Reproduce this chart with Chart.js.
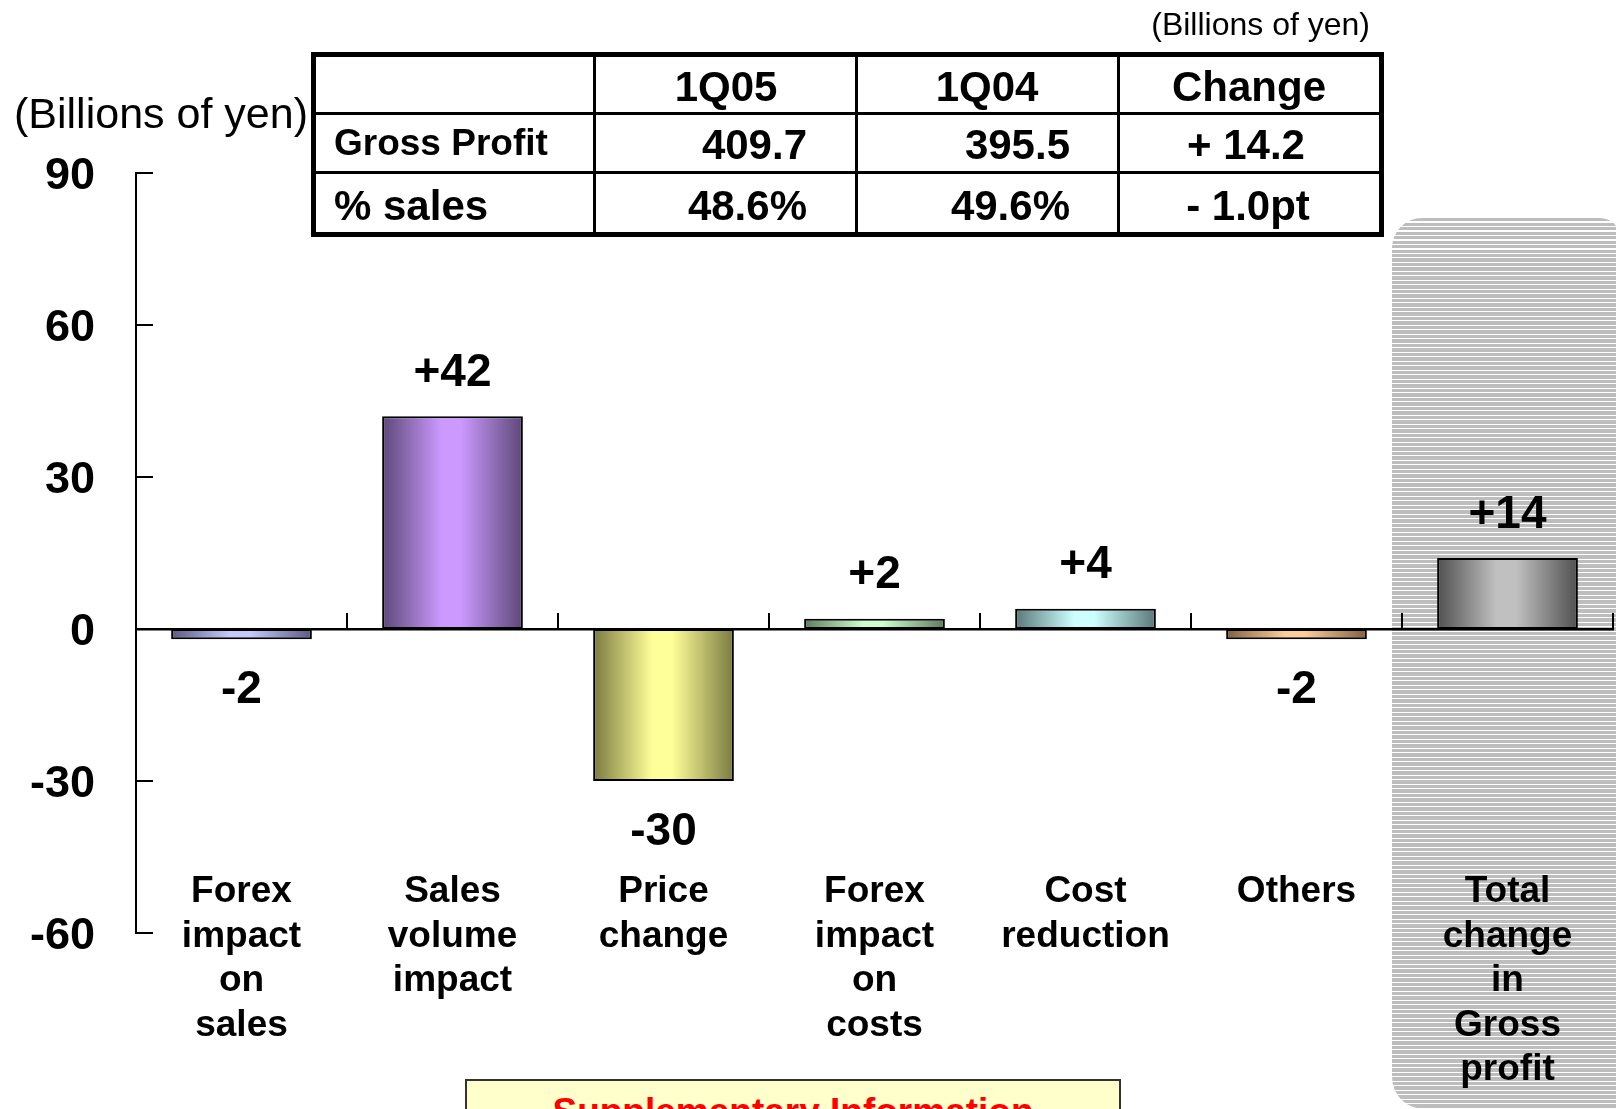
<!DOCTYPE html>
<html>
<head>
<meta charset="utf-8">
<script src="https://cdn.jsdelivr.net/npm/chart.js@4.4.0/dist/chart.umd.min.js"></script>
<style>
html,body{margin:0;padding:0;width:1616px;height:1109px;overflow:hidden;background:#fff;font-family:'Liberation Sans',Arial,Helvetica,sans-serif;}
#panel{position:absolute;left:1392px;top:218px;width:228px;height:891px;border-radius:30px 20px 0 32px;
  background:repeating-linear-gradient(to bottom,#bdbdbd 0px,#bdbdbd 3.3px,#ffffff 3.3px,#ffffff 4.5px);z-index:0;}
#wrap{position:absolute;left:0;top:0;width:1616px;height:1109px;z-index:1;}
.t{position:absolute;color:#000;white-space:nowrap;z-index:3;}
.b{font-weight:bold;}
#tbl{position:absolute;left:311px;top:52px;width:1073px;height:185px;border:5px solid #000;box-sizing:border-box;z-index:2;background:transparent;}
.hl{position:absolute;left:311px;width:1073px;height:3px;background:#000;z-index:2;}
.vl{position:absolute;top:52px;width:3px;height:185px;background:#000;z-index:2;}
#supp{position:absolute;left:465px;top:1079px;width:656px;height:120px;background:#ffffcc;border:2px solid #333;box-sizing:border-box;z-index:2;
  text-align:center;color:#ff0000;font-weight:bold;font-size:37px;line-height:37px;padding-top:12px;}
</style>
</head>
<body>
<div id="panel"></div>
<div id="wrap"><canvas id="c" width="1616" height="1109"></canvas></div>

<div class="t" style="left:14px;top:92px;font-size:43px;line-height:43px;">(Billions of yen)</div>
<div class="t" style="right:246px;top:8px;font-size:32px;line-height:32px;">(Billions of yen)</div>

<div id="tbl"></div>
<div class="hl" style="top:112px;"></div>
<div class="hl" style="top:171px;"></div>
<div class="vl" style="left:593px;"></div>
<div class="vl" style="left:855px;"></div>
<div class="vl" style="left:1117px;"></div>

<div class="t b" style="left:576px;width:300px;text-align:center;top:57px;height:60px;line-height:60px;font-size:42px;">1Q05</div>
<div class="t b" style="left:837px;width:300px;text-align:center;top:57px;height:60px;line-height:60px;font-size:42px;">1Q04</div>
<div class="t b" style="left:1099px;width:300px;text-align:center;top:57px;height:60px;line-height:60px;font-size:42px;">Change</div>

<div class="t b" style="left:334px;top:113px;height:60px;line-height:60px;font-size:37px;">Gross Profit</div>
<div class="t b" style="left:507px;width:300px;text-align:right;top:115px;height:60px;line-height:60px;font-size:42px;">409.7</div>
<div class="t b" style="left:770px;width:300px;text-align:right;top:115px;height:60px;line-height:60px;font-size:42px;">395.5</div>
<div class="t b" style="left:1096px;width:300px;text-align:center;top:115px;height:60px;line-height:60px;font-size:42px;">+ 14.2</div>

<div class="t b" style="left:334px;top:176px;height:60px;line-height:60px;font-size:42px;">% sales</div>
<div class="t b" style="left:507px;width:300px;text-align:right;top:176px;height:60px;line-height:60px;font-size:42px;">48.6%</div>
<div class="t b" style="left:770px;width:300px;text-align:right;top:176px;height:60px;line-height:60px;font-size:42px;">49.6%</div>
<div class="t b" style="left:1098px;width:300px;text-align:center;top:176px;height:60px;line-height:60px;font-size:42px;">- 1.0pt</div>

<div id="supp">Supplementary Information</div>

<script>
const FONT = "'Liberation Sans', Arial, Helvetica, sans-serif";

// ---- data ----
const categories = [
  ["Forex","impact","on","sales"],
  ["Sales","volume","impact"],
  ["Price","change"],
  ["Forex","impact","on","costs"],
  ["Cost","reduction"],
  ["Others"],
  ["Total","change","in","Gross","profit"]
];
const values = [-2, 42, -30, 2, 4, -2, 14];
const yTicks = [-60, -30, 0, 30, 60, 90];
const lightColors = ["#c8c8ff", "#cc99ff", "#ffff99", "#ccffcc", "#ccffff", "#ffcc99", "#c0c0c0"];
const darkColors  = ["#5a5a82", "#5c4878", "#7a7a40", "#5f7a5f", "#5a7878", "#806040", "#505050"];

Chart.defaults.font.family = FONT;
Chart.defaults.color = "#000";

const decor = {
  id: "decor",
  afterDatasetsDraw(chart) {
    const {ctx, scales: {x, y}, chartArea} = chart;
    ctx.save();
    ctx.strokeStyle = "#000";
    ctx.lineWidth = 2;
    ctx.beginPath();
    y.ticks.forEach(t => {
      const py = y.getPixelForValue(t.value);
      ctx.moveTo(chartArea.left, py);
      ctx.lineTo(chartArea.left + 17, py);
    });
    const y0 = y.getPixelForValue(0);
    for (let i = 1; i <= categories.length; i++) {
      const px = x.getPixelForValue(i - 0.5);
      ctx.moveTo(px, y0);
      ctx.lineTo(px, y0 - 16);
    }
    ctx.stroke();

    const meta = chart.getDatasetMeta(0);
    ctx.font = "bold 46px " + FONT;
    ctx.textAlign = "center";
    ctx.textBaseline = "alphabetic";
    ctx.fillStyle = "#000";
    meta.data.forEach((bar, i) => {
      const v = values[i];
      const txt = (v > 0 ? "+" : "") + v;
      const by = v >= 0 ? bar.y - 30.5 : bar.y + 64;
      ctx.fillText(txt, bar.x, by);
    });
    ctx.restore();
  }
};

new Chart(document.getElementById("c"), {
  type: "bar",
  data: {
    labels: categories,
    datasets: [{
      data: values,
      backgroundColor(ctx) {
        const chart = ctx.chart;
        const xs = chart.scales.x;
        const i = ctx.dataIndex;
        if (i === undefined) return "#ccc";
        if (!xs || !chart.chartArea) return lightColors[i];
        const cx = xs.getPixelForValue(i);
        const w = xs.width / categories.length * 0.667;
        const g = chart.ctx.createLinearGradient(cx - w / 2, 0, cx + w / 2, 0);
        g.addColorStop(0, darkColors[i]);
        g.addColorStop(0.42, lightColors[i]);
        g.addColorStop(0.56, lightColors[i]);
        g.addColorStop(1, darkColors[i]);
        return g;
      },
      borderColor: "#000",
      borderWidth: 2,
      borderSkipped: false,
      barPercentage: 0.667,
      categoryPercentage: 1
    }]
  },
  options: {
    responsive: false,
    devicePixelRatio: 1,
    animation: false,
    layout: { padding: { top: 173, bottom: 176, left: 0, right: 3 } },
    plugins: { legend: { display: false }, tooltip: { enabled: false } },
    scales: {
      x: {
        type: "category",
        position: { y: 0 },
        offset: true,
        afterFit(s) { s.paddingLeft = 0; s.paddingRight = 0; s.paddingTop = 0; s.paddingBottom = 0; },
        grid: { display: false, drawTicks: false, offset: true },
        border: { display: true, color: "#000", width: 2.5 },
        ticks: {
          font: { size: 37, weight: "bold", lineHeight: 1.2 },
          color: "#000",
          padding: 241,
          maxRotation: 0,
          minRotation: 0,
          autoSkip: false
        }
      },
      y: {
        min: -60,
        max: 90,
        afterBuildTicks(s) { s.ticks = yTicks.map(v => ({ value: v })); },
        afterFit(s) { s.width = 136; s.paddingTop = 0; s.paddingBottom = 0; },
        grid: { display: false, drawTicks: false },
        border: { display: true, color: "#000", width: 2 },
        ticks: {
          font: { size: 45, weight: "bold" },
          color: "#000",
          padding: 41,
          labelOffset: 4,
          callback: v => String(v)
        }
      }
    }
  },
  plugins: [decor]
});
</script>
</body>
</html>
